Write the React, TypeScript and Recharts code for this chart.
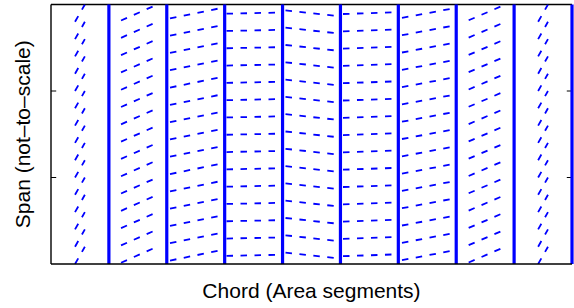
import React from "react"
import { LineChart, Line, XAxis, YAxis, ReferenceLine } from "recharts"

// span stations (row centres), one dashed line per row in every chord panel
const rowSpan = [0.1, 0.3, 0.5, 0.7, 0.9, 1.1, 1.3, 1.5, 1.7, 1.9, 2.1, 2.3, 2.5, 2.7, 2.9]

// chord panels: start / end of the dashed lines and their rise across the panel
const panelStart = [0.415, 1.21, 2.056, 3.032, 4.051, 5.044, 6.063, 7.215, 8.415]
const panelEnd = [0.585, 1.785, 2.945, 3.878, 4.923, 5.89, 6.944, 7.79, 8.585]
const panelRise = [0.2, 0.17, 0.12, 0.012, -0.064, 0.02, 0.11, 0.165, 0.2]

// area segment boundaries (thick lines)
const segmentEdges = [1, 2, 3, 4, 5, 6, 7, 8, 9]
const spanTicks = [1, 2]

const BLUE = "#0000ff"
const FONT = "'Liberation Sans', Arial, Helvetica, sans-serif"
const TICK_LEN = 0.09

const rowLines = panelStart.flatMap((x0, p) =>
  rowSpan.map((y) => ({
    id: `p${p}-r${y}`,
    points: [
      { x: x0, y: y - panelRise[p] / 2 },
      { x: panelEnd[p], y: y + panelRise[p] / 2 },
    ],
  }))
)

const XLabel = ({ viewBox }: any) => {
  const { x = 51, y = 264, width = 521 } = viewBox || {}
  return (
    <text x={x + width / 2} y={y + 34} textAnchor="middle" fontSize={21} fontFamily={FONT} fill="#000">
      Chord (Area segments)
    </text>
  )
}

const YLabel = ({ viewBox }: any) => {
  const { y = 4.5, height = 259.5 } = viewBox || {}
  const cx = 30
  const cy = y + height / 2
  return (
    <text
      x={cx}
      y={cy}
      transform={`rotate(-90 ${cx} ${cy})`}
      textAnchor="middle"
      fontSize={21}
      fontFamily={FONT}
      fill="#000"
    >
      Span (not–to–scale)
    </text>
  )
}

export default function App() {
  return (
    <div style={{ position: "absolute", left: 0, top: 0, background: "#fff" }}>
      <LineChart width={574} height={308} margin={{ top: 4.5, right: 2, bottom: 0, left: 0 }}>
        <XAxis
          type="number"
          dataKey="x"
          domain={[0, 9]}
          allowDataOverflow
          height={44}
          tick={false}
          tickLine={false}
          axisLine={{ stroke: "#000", strokeWidth: 1.4 }}
          label={(props: any) => <XLabel {...props} />}
        />
        <YAxis
          type="number"
          dataKey="y"
          domain={[0, 3]}
          allowDataOverflow
          width={51}
          tick={false}
          tickLine={false}
          axisLine={{ stroke: "#000", strokeWidth: 1.4 }}
          label={(props: any) => <YLabel {...props} />}
        />
        <ReferenceLine y={3} stroke="#000" strokeWidth={1.4} />
        {spanTicks.map((t) => (
          <ReferenceLine
            key={`tl${t}`}
            segment={[{ x: 0, y: t }, { x: TICK_LEN, y: t }]}
            stroke="#000"
            strokeWidth={1}
          />
        ))}
        {spanTicks.map((t) => (
          <ReferenceLine
            key={`tr${t}`}
            segment={[{ x: 9 - TICK_LEN, y: t }, { x: 9, y: t }]}
            stroke="#000"
            strokeWidth={1}
          />
        ))}
        {rowLines.map((l) => (
          <Line
            key={l.id}
            data={l.points}
            dataKey="y"
            stroke={BLUE}
            strokeWidth={1.8}
            strokeDasharray="6.5 7.5"
            dot={false}
            activeDot={false}
            legendType="none"
            isAnimationActive={false}
          />
        ))}
        {segmentEdges.map((e) => (
          <ReferenceLine key={`e${e}`} x={e} stroke={BLUE} strokeWidth={3.2} />
        ))}
      </LineChart>
    </div>
  )
}
